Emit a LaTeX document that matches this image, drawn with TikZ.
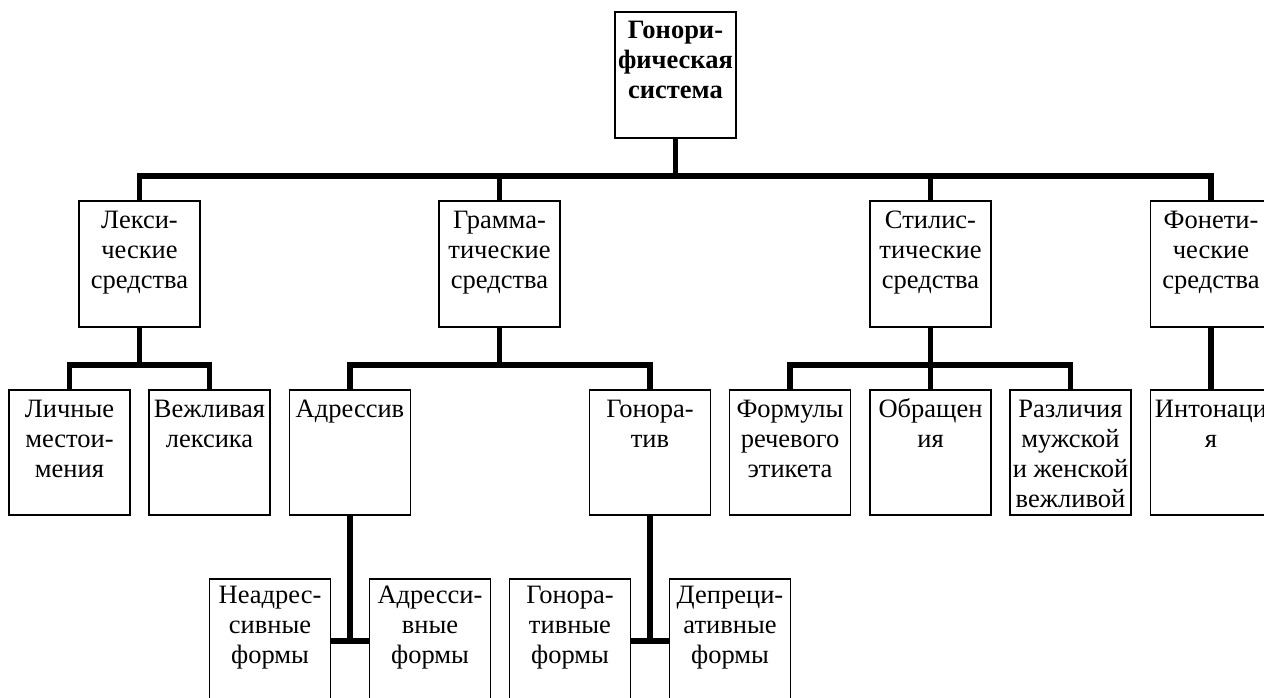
\documentclass[tikz,border=0pt]{standalone}
\usepackage{fontspec}
\setmainfont{Liberation Serif}
\usetikzlibrary{backgrounds}
\newcommand{\myst}{\rule{0pt}{20pt}}
\tikzset{
  frame/.style={draw, line width=1.8pt, fill=white, inner sep=0pt, minimum width=121pt},
  lvA/.style={frame, minimum height=126pt},
  lvB/.style={frame, minimum height=125pt},
  lbl/.style={anchor=north, inner sep=0pt, align=center, font=\fontsize{26.5}{30}\selectfont},
  conn/.style={line width=5.5pt, line join=miter},
}
\begin{document}
\begin{tikzpicture}[x=1pt, y=-1pt]
\useasboundingbox (0,0) rectangle (1264,698);
% level 0
\node[lvA] (root) at (675.5,75) {};
\node[lbl, yshift=-7pt] (rootT) at (root.north) {\myst\textbf{Гонори-}\\\textbf{фическая}\\\textbf{система}};
% level 1
\node[lvA] (lex) at (139.5,264) {};
\node[lvA] (gram) at (499.5,264) {};
\node[lvA] (stil) at (930.5,264) {};
\node[lvA] (fon) at (1211,264) {};
\node[lbl, yshift=-8pt] (lexT) at (lex.north) {\myst Лекси-\\ческие\\средства};
\node[lbl, yshift=-8pt] (gramT) at (gram.north) {\myst Грамма-\\тические\\средства};
\node[lbl, yshift=-8pt] (stilT) at (stil.north) {\myst Стилис-\\тические\\средства};
\node[lbl, yshift=-8pt] (fonT) at (fon.north) {\myst Фонети-\\ческие\\средства};
% level 2
\node[lvB] (lich) at (69.5,452.5) {};
\node[lvB] (vezh) at (209.5,452.5) {};
\node[lvB] (adr) at (350,452.5) {};
\node[lvB] (gon) at (650,452.5) {};
\node[lvB] (form) at (790,452.5) {};
\node[lvB] (obr) at (930.5,452.5) {};
\node[lvB] (razl) at (1070.5,452.5) {};
\node[lvB] (inton) at (1211,452.5) {};
\node[lbl, yshift=-8pt] (lichT) at (lich.north) {\myst Личные\\местои-\\мения};
\node[lbl, yshift=-8pt] (vezhT) at (vezh.north) {\myst Вежливая\\лексика};
\node[lbl, yshift=-8pt] (adrT) at (adr.north) {\myst Адрессив};
\node[lbl, yshift=-8pt] (gonT) at (gon.north) {\myst Гонора-\\тив};
\node[lbl, yshift=-8pt] (formT) at (form.north) {\myst Формулы\\речевого\\этикета};
\node[lbl, yshift=-8pt] (obrT) at (obr.north) {\myst Обращен\\ия};
\node[lbl, yshift=-8pt] (razlT) at (razl.north) {\myst Различия\\мужской\\и женской\\вежливой};
\node[lbl, yshift=-8pt] (intonT) at (inton.north) {\myst Интонаци\\я};
% level 3
\node[lvA] (neadr) at (270,642) {};
\node[lvA] (adrf) at (430,642) {};
\node[lvA] (gonf) at (570,642) {};
\node[lvA] (depr) at (730,642) {};
\node[lbl, yshift=-5pt] (neadrT) at (neadr.north) {\myst Неадрес-\\сивные\\формы};
\node[lbl, yshift=-5pt] (adrfT) at (adrf.north) {\myst Адресси-\\вные\\формы};
\node[lbl, yshift=-5pt] (gonfT) at (gonf.north) {\myst Гонора-\\тивные\\формы};
\node[lbl, yshift=-5pt] (deprT) at (depr.north) {\myst Депреци-\\ативные\\формы};
% connectors
\begin{scope}[on background layer]
\fill[white] (0,0) rectangle (1264,698);
\draw[conn] (root.south) -- (root.south |- 0,176);
\draw[conn] (lex.north) -- (lex.north |- 0,176) -- (fon.north |- 0,176) -- (fon.north);
\draw[conn] (gram.north) -- (gram.north |- 0,176);
\draw[conn] (stil.north) -- (stil.north |- 0,176);
\draw[conn] (lex.south) -- (lex.south |- 0,365);
\draw[conn] (lich.north) -- (lich.north |- 0,365) -- (vezh.north |- 0,365) -- (vezh.north);
\draw[conn] (gram.south) -- (gram.south |- 0,365);
\draw[conn] (adr.north) -- (adr.north |- 0,365) -- (gon.north |- 0,365) -- (gon.north);
\draw[conn] (stil.south) -- (stil.south |- 0,365);
\draw[conn] (form.north) -- (form.north |- 0,365) -- (razl.north |- 0,365) -- (razl.north);
\draw[conn] (obr.north) -- (obr.north |- 0,365);
\draw[conn] (fon.south) -- (inton.north);
\draw[conn] (adr.south) -- (adr.south |- 0,641);
\draw[conn] (neadr.east |- 0,641) -- (adrf.west |- 0,641);
\draw[conn] (gon.south) -- (gon.south |- 0,641);
\draw[conn] (gonf.east |- 0,641) -- (depr.west |- 0,641);
\end{scope}
\end{tikzpicture}
\end{document}
